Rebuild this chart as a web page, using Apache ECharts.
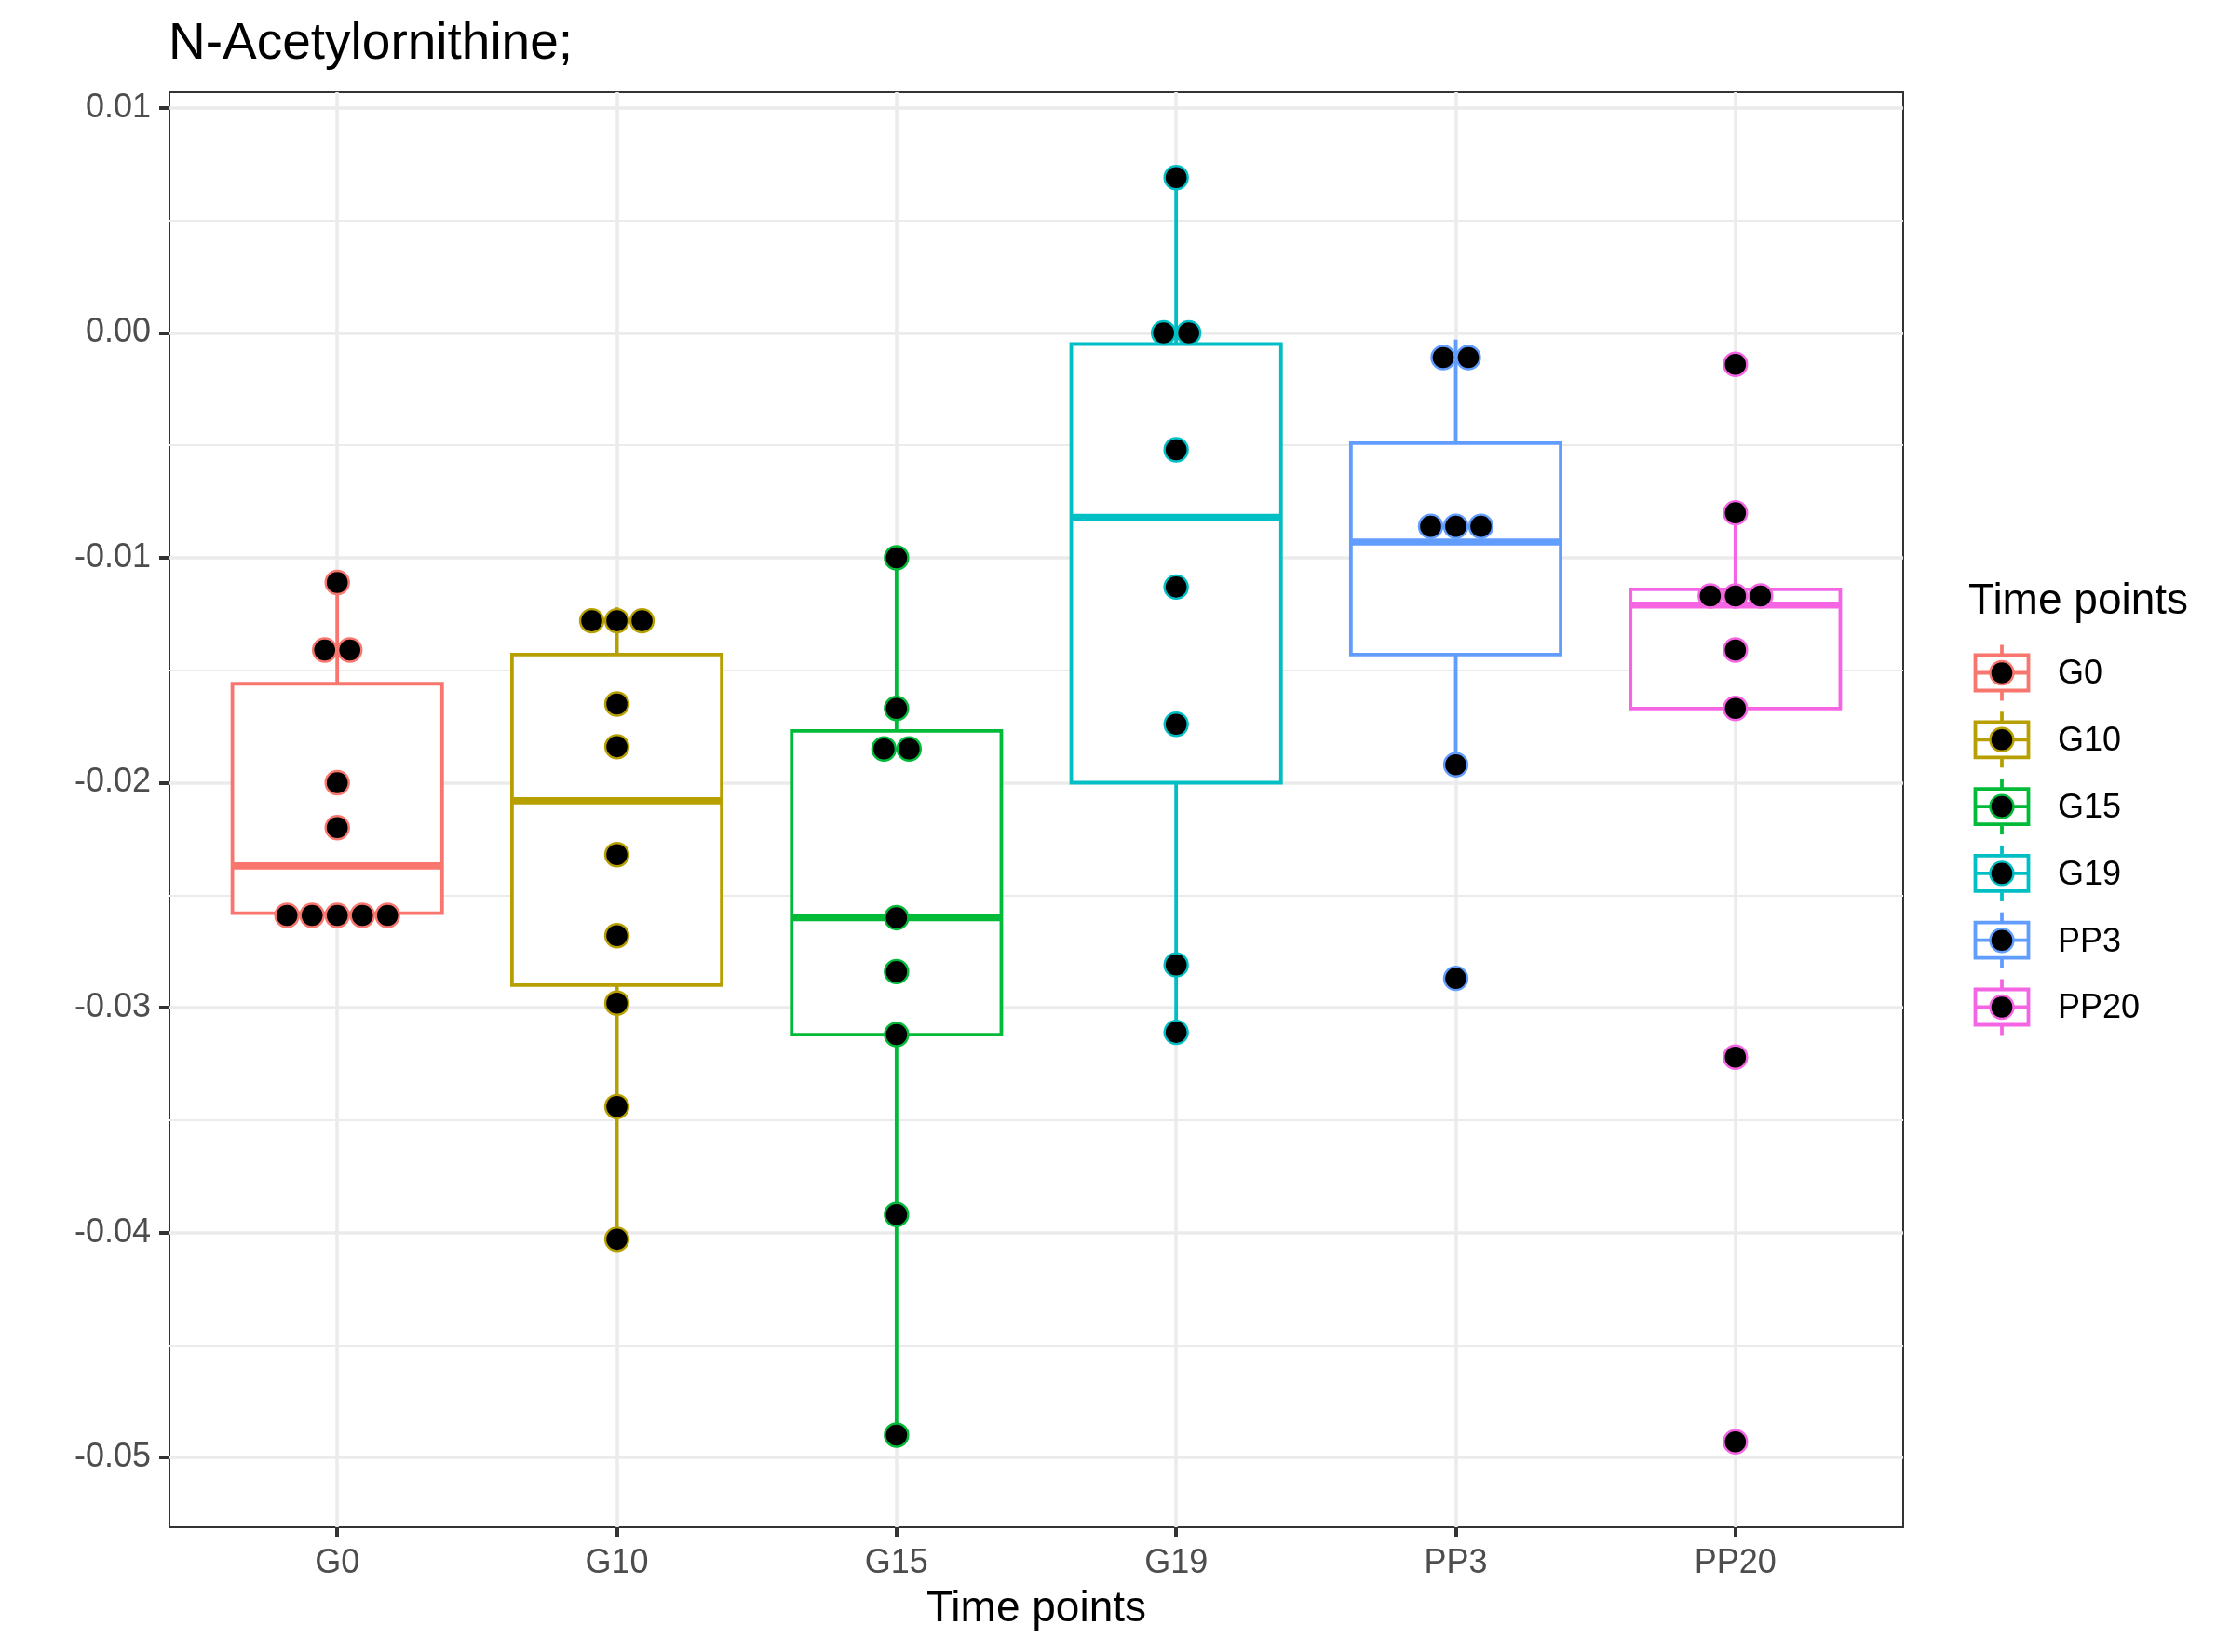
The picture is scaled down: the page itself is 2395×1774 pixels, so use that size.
<!DOCTYPE html>
<html><head><meta charset="utf-8">
<script src="https://cdn.jsdelivr.net/npm/echarts@6/dist/echarts.min.js"></script>
<style>html,body{margin:0;padding:0;background:#fff;}#c{width:2395px;height:1774px;}</style>
</head><body><div id="c"></div>
<script>
// ---- data ----
const categories = ['G0', 'G10', 'G15', 'G19', 'PP3', 'PP20'];
const colors = ['#F8766D', '#B79F00', '#00BA38', '#00BFC4', '#619CFF', '#F564E3'];

const whiskerLow  = [-0.0258, -0.0403, -0.0490, -0.0311, -0.0192, -0.0167];
const q1          = [-0.0258, -0.0290, -0.0312, -0.0200, -0.0143, -0.0167];
const median      = [-0.0237, -0.0208, -0.0260, -0.0082, -0.0093, -0.0121];
const q3          = [-0.0156, -0.0143, -0.0177, -0.0005, -0.0049, -0.0114];
const whiskerHigh = [-0.0110, -0.0122, -0.0100, 0.0069, -0.0003, -0.0080];

const pointsG0   = [-0.0111, -0.0141, -0.0141, -0.0200, -0.0220, -0.0259, -0.0259, -0.0259, -0.0259, -0.0259];
const pointsG10  = [-0.0128, -0.0128, -0.0128, -0.0165, -0.0184, -0.0232, -0.0268, -0.0298, -0.0344, -0.0403];
const pointsG15  = [-0.0100, -0.0167, -0.0185, -0.0185, -0.0260, -0.0284, -0.0312, -0.0392, -0.0490];
const pointsG19  = [0.0069, 0.0000, 0.0000, -0.0052, -0.0113, -0.0174, -0.0281, -0.0311];
const pointsPP3  = [-0.0011, -0.0011, -0.0086, -0.0086, -0.0086, -0.0192, -0.0287];
const pointsPP20 = [-0.0014, -0.0080, -0.0117, -0.0117, -0.0117, -0.0141, -0.0167, -0.0322, -0.0493];

const yTicks = [-0.05, -0.04, -0.03, -0.02, -0.01, 0, 0.01];
const yMinorTicks = [-0.045, -0.035, -0.025, -0.015, -0.005, 0.005];
const yMin = -0.0531, yMax = 0.0107;
const xMin = 0.4, xMax = 6.6;

const title = 'N-Acetylornithine;';
const xTitle = 'Time points';
const legendTitle = 'Time points';

// ---- styling / layout ----
const FONT = '"Liberation Sans", Arial, Helvetica, sans-serif';
const BOX_W = 0.75;
const LW = 3.8;
const DOT = 25, DOT_STEP = 27;
const GRID = {left: 182, top: 99, right: 351, bottom: 134};

const allPoints = [pointsG0, pointsG10, pointsG15, pointsG19, pointsPP3, pointsPP20];

const boxData = categories.map((c, i) => [i + 1, whiskerLow[i], q1[i], median[i], q3[i], whiskerHigh[i]]);

// dotplot-style centred stacking of equal values
const dotData = [];
allPoints.forEach((arr, gi) => {
  const counts = {};
  arr.forEach(v => { counts[v] = (counts[v] || 0) + 1; });
  const seen = {};
  arr.forEach(v => {
    const n = counts[v];
    const k = seen[v] || 0; seen[v] = k + 1;
    dotData.push({
      value: [gi + 1, v],
      symbolOffset: [(k - (n - 1) / 2) * DOT_STEP, 0],
      itemStyle: {color: '#000', borderColor: colors[gi], borderWidth: 2.4, opacity: 1}
    });
  });
});

// legend drawn as graphic (ggplot-style boxplot key glyphs)
const legendGraphics = [{
  type: 'text', x: 2114, y: 646,
  style: {text: legendTitle, font: '46px ' + FONT, fill: '#000', verticalAlign: 'middle', align: 'left'}
}];
categories.forEach((c, i) => {
  const cx = 2150, cy = 722.5 + 71.8 * i;
  legendGraphics.push({
    type: 'group', x: cx, y: cy,
    children: [
      {type: 'line', shape: {x1: 0, y1: -30, x2: 0, y2: 30}, style: {stroke: colors[i], lineWidth: LW}},
      {type: 'rect', shape: {x: -28.5, y: -19, width: 57, height: 38}, style: {fill: '#fff', stroke: colors[i], lineWidth: LW}},
      {type: 'line', shape: {x1: -28.5, y1: 0, x2: 28.5, y2: 0}, style: {stroke: colors[i], lineWidth: LW}},
      {type: 'circle', shape: {cx: 0, cy: 0, r: 12.5}, style: {fill: '#000', stroke: colors[i], lineWidth: 2.4}}
    ]
  });
  legendGraphics.push({
    type: 'text', x: 2210, y: cy + 2,
    style: {text: c, font: '36px ' + FONT, fill: '#000', verticalAlign: 'middle', align: 'left'}
  });
});

const chart = echarts.init(document.getElementById('c'), null, {renderer: 'canvas'});
chart.setOption({
  animation: false,
  backgroundColor: '#fff',
  textStyle: {fontFamily: FONT},
  title: {
    text: title, left: 176, top: 15,
    textStyle: {fontSize: 55, fontWeight: 'normal', color: '#000', fontFamily: FONT}
  },
  grid: {left: GRID.left, top: GRID.top, right: GRID.right, bottom: GRID.bottom, show: true,
         borderColor: '#333333', borderWidth: 2, backgroundColor: 'transparent'},
  xAxis: {
    type: 'value', min: xMin, max: xMax,
    name: xTitle, nameLocation: 'middle', nameGap: 65,
    nameTextStyle: {fontSize: 46, color: '#000', fontFamily: FONT},
    axisLine: {show: false, onZero: false},
    axisTick: {show: true, length: 11, lineStyle: {color: '#333333', width: 4}, customValues: [1, 2, 3, 4, 5, 6]},
    axisLabel: {show: true, margin: 21, fontSize: 36, color: '#4D4D4D', fontFamily: FONT,
                customValues: [1, 2, 3, 4, 5, 6],
                formatter: v => categories[Math.round(v) - 1] || ''},
    splitLine: {show: true, lineStyle: {color: '#EBEBEB', width: 3.6}}
  },
  yAxis: [{
    type: 'value', min: yMin, max: yMax,
    axisLine: {show: false, onZero: false},
    axisTick: {show: true, length: 11, lineStyle: {color: '#333333', width: 4}, customValues: yTicks},
    axisLabel: {show: true, margin: 20, fontSize: 36, color: '#4D4D4D', fontFamily: FONT,
                customValues: yTicks, formatter: v => v.toFixed(2)},
    splitLine: {show: true, lineStyle: {color: '#EBEBEB', width: 3.6}}
  }, {
    type: 'value', min: yMin, max: yMax, position: 'left',
    axisLine: {show: false, onZero: false},
    axisTick: {show: false, customValues: yMinorTicks},
    axisLabel: {show: false, customValues: yMinorTicks},
    splitLine: {show: true, lineStyle: {color: '#EBEBEB', width: 1.8}}
  }],
  graphic: legendGraphics,
  series: [{
    type: 'custom',
    xAxisIndex: 0, yAxisIndex: 0,
    data: boxData,
    z: 2,
    renderItem: function (params, api) {
      const x = api.value(0);
      const col = colors[params.dataIndex];
      const pLo = api.coord([x, api.value(1)]);
      const pQ1 = api.coord([x, api.value(2)]);
      const pMed = api.coord([x, api.value(3)]);
      const pQ3 = api.coord([x, api.value(4)]);
      const pHi = api.coord([x, api.value(5)]);
      const hw = api.size([BOX_W, 0])[0] / 2;
      const cx = pMed[0];
      return {
        type: 'group',
        children: [
          {type: 'line', shape: {x1: cx, y1: pHi[1], x2: cx, y2: pQ3[1]}, style: {stroke: col, lineWidth: LW}},
          {type: 'line', shape: {x1: cx, y1: pQ1[1], x2: cx, y2: pLo[1]}, style: {stroke: col, lineWidth: LW}},
          {type: 'rect', shape: {x: cx - hw, y: pQ3[1], width: 2 * hw, height: pQ1[1] - pQ3[1]},
           style: {fill: '#fff', stroke: col, lineWidth: LW}},
          {type: 'line', shape: {x1: cx - hw, y1: pMed[1], x2: cx + hw, y2: pMed[1]}, style: {stroke: col, lineWidth: LW * 2}}
        ]
      };
    }
  }, {
    type: 'scatter',
    xAxisIndex: 0, yAxisIndex: 0,
    z: 3,
    symbol: 'circle',
    symbolSize: DOT,
    itemStyle: {opacity: 1},
    data: dotData
  }]
});
</script>
</body></html>
